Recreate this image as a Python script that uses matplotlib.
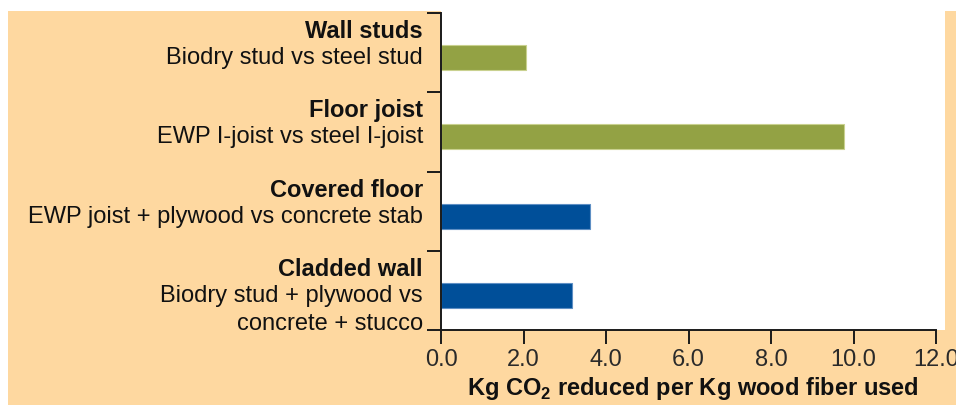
import numpy as np
import matplotlib.pyplot as plt
from matplotlib.patches import Rectangle

plt.rcParams['font.family'] = ['Liberation Sans', 'DejaVu Sans']
plt.rcParams['mathtext.fontset'] = 'custom'
plt.rcParams['mathtext.rm'] = 'Liberation Sans'
plt.rcParams['mathtext.bf'] = 'Liberation Sans:bold'

# data
categories = ["Wall studs", "Floor joist", "Covered floor", "Cladded wall"]
details = [
    ["Biodry stud vs steel stud"],
    ["EWP I-joist vs steel I-joist"],
    ["EWP joist + plywood vs concrete stab"],
    ["Biodry stud + plywood vs", "concrete + stucco"],
]
values = [2.05, 9.77, 3.62, 3.18]
groups = ["wood", "wood", "floor", "floor"]
x_ticks = [0, 2, 4, 6, 8, 10, 12]
x_label = r"Kg CO$_\mathbf{2}$ reduced per Kg wood fiber used"

PEACH = "#FED8A0"
GREEN = "#93A244"
BLUE = "#004F99"
bar_colors = [GREEN if g == "wood" else BLUE for g in groups]
edge_colors = ["#C9D18F" if g == "wood" else "#5E8FC4" for g in groups]

W, H = 956, 406
fig = plt.figure(figsize=(W / 100, H / 100), dpi=100, facecolor="white")

# peach backdrop behind the labels
fig.add_artist(Rectangle((8 / W, 0), 1 - 8 / W, (H - 12) / H,
                         transform=fig.transFigure, facecolor=PEACH,
                         edgecolor="none", zorder=-1))

ax = fig.add_axes([441 / W, (H - 331) / H, 504 / W, 331 / H])
ax.set_facecolor("white")

n = len(categories)
pos = np.arange(n)
ax.barh(pos + 0.563, values, height=0.316, color=bar_colors,
        edgecolor=edge_colors, linewidth=0.8)

ax.set_xlim(0, 12 * 504 / 495)
ax.set_ylim(n, -14 / 79)

for side in ("top", "right"):
    ax.spines[side].set_visible(False)
for side in ("left", "bottom"):
    ax.spines[side].set_linewidth(1.4)
    ax.spines[side].set_color("#1a1a1a")
ax.spines["left"].set_bounds(0, n)
ax.spines["bottom"].set_bounds(x_ticks[0], x_ticks[-1])

ax.set_yticks(np.arange(n + 1))
ax.set_yticklabels([])
ax.set_xticks(x_ticks)
ax.set_xticklabels([f"{t:.1f}" for t in x_ticks])
ax.tick_params(axis="both", length=10, width=1.4, color="#1a1a1a")
ax.tick_params(axis="x", pad=3, labelsize=17, labelcolor="#2a2a2a")

# category labels: bold heading plus detail lines
for i, (cat, lines) in enumerate(zip(categories, details)):
    ax.annotate(cat, xy=(0, i), xycoords=("axes fraction", "data"),
                xytext=(-18, -24), textcoords="offset pixels",
                ha="right", va="baseline", fontsize=17, fontweight="bold",
                color="#111111")
    for k, line in enumerate(lines):
        ax.annotate(line, xy=(0, i), xycoords=("axes fraction", "data"),
                    xytext=(-18, -50 - 28 * k), textcoords="offset pixels",
                    ha="right", va="baseline", fontsize=17, color="#111111")

ax.set_xlabel(x_label, fontsize=17, fontweight="bold", labelpad=3,
              color="#111111")

fig.savefig("out.png", dpi=100, facecolor=fig.get_facecolor())
